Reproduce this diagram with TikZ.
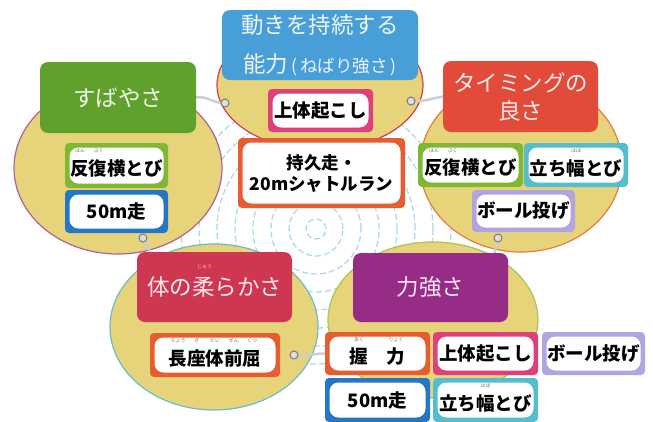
\documentclass[tikz,border=0pt]{standalone}
\usepackage{fontspec}
\newfontfamily\jp{Noto Sans CJK JP}
\usetikzlibrary{shapes.geometric}
\pgfdeclarelayer{bg}
\pgfsetlayers{bg,main}
\definecolor{ellfill}{RGB}{231,211,122}
\definecolor{hblue}{RGB}{72,158,214}
\definecolor{hgreen}{RGB}{96,160,44}
\definecolor{hred}{RGB}{226,74,58}
\definecolor{hcrim}{RGB}{206,54,82}
\definecolor{hpurp}{RGB}{150,44,134}
\definecolor{bpink}{RGB}{222,64,124}
\definecolor{borange}{RGB}{230,94,48}
\definecolor{bgreen}{RGB}{126,184,52}
\definecolor{bblue}{RGB}{38,118,198}
\definecolor{bteal}{RGB}{84,190,206}
\definecolor{blav}{RGB}{178,164,222}
\definecolor{ocrim}{RGB}{208,62,84}
\definecolor{opurp}{RGB}{176,96,150}
\definecolor{oorange}{RGB}{230,124,62}
\definecolor{oteal}{RGB}{104,190,200}
\definecolor{ogreen}{RGB}{164,200,84}
\definecolor{wavecol}{RGB}{176,218,236}
\definecolor{ropegray}{RGB}{205,205,212}
\definecolor{ringgray}{RGB}{222,222,224}
\definecolor{ringdark}{RGB}{120,120,125}
\definecolor{rubycol}{RGB}{110,110,110}
% #1 text options, #2 name, #3 x, #4 y, #5 w, #6 h, #7 colour, #8 text
\newcommand\itembox[8][]{%
  \node[myframe=#7, minimum width=#5pt, minimum height=#6pt] (#2) at (#3,#4) {};
  \pgfmathsetmacro\myiw{#5-9}%
  \pgfmathsetmacro\myih{#6-9}%
  \node[mycore, minimum width=\myiw pt, minimum height=\myih pt] (#2w) at (#2) {};
  \node[mytext, #1] (#2t) at (#2) {#8};
}
\begin{document}
\begin{tikzpicture}[x=1pt,y=-1pt,
  myheader/.style={fill=#1, rounded corners=8pt, inner sep=0pt, text=white!90!#1,
    font=\jp\fontsize{22.5}{28}\selectfont, align=center},
  myell/.style={ellipse, fill=ellfill, draw=#1, line width=1.2pt, inner sep=0pt},
  myframe/.style={fill=#1, rounded corners=4pt, inner sep=0pt},
  mycore/.style={fill=white, rounded corners=9pt, inner sep=0pt},
  mytext/.style={font=\jp\bfseries\fontsize{18.5}{21}\selectfont, align=center, inner sep=0pt, text=black},
  myruby/.style={font=\jp\fontsize{5}{5}\selectfont, text=rubycol, inner sep=0pt},
  myring/.style={circle, fill=ringgray, draw=ringdark, line width=1pt, minimum size=8pt, inner sep=0pt},
  myrope/.style={draw=ropegray, line width=2.5pt, line cap=round},
  mywave/.style={draw=wavecol, line width=1.3pt, dash pattern=on 6pt off 3pt}
]
\useasboundingbox (0,0) rectangle (653,421);

% headers
\node[myheader=hblue, minimum width=196pt, minimum height=70pt, font=\jp\fontsize{22.5}{39}\selectfont] (hb) at (320,45)
  {動きを持続する\\能力{\fontsize{17.5}{17.5}\selectfont\,(\,ねばり強さ\,)}};
\node[myheader=hgreen, minimum width=156pt, minimum height=71pt] (hg) at (118,97.5) {すばやさ};
\node[myheader=hred, minimum width=155pt, minimum height=71pt] (hr) at (520.5,96.5) {タイミングの\\良さ};
\node[myheader=hcrim, minimum width=155pt, minimum height=70pt] (hc) at (214.5,287) {体の柔らかさ};
\node[myheader=hpurp, minimum width=155pt, minimum height=69pt] (hp) at (430.5,287.5) {力強さ};
\node[myruby, text=white!65!hcrim] (rcj) at (204.5,267) {じゅう};

% items
\itembox{ta}{320.5}{110.5}{105}{43}{bpink}{上体起こし}
\itembox[font=\jp\bfseries\fontsize{17.5}{21}\selectfont]{tb}{321.5}{173}{167}{70}{borange}{持久走・\\20mシャトルラン}
\itembox[yshift=-3pt]{la}{116.5}{165.5}{103}{45}{bgreen}{反復横とび}
\itembox{lb}{116.5}{211.5}{103}{43}{bblue}{50m走}
\itembox[yshift=-3pt]{ra}{470.5}{165}{105}{44}{bgreen}{反復横とび}
\itembox[yshift=-3pt]{rb}{576}{165}{104}{44}{bteal}{立ち幅とび}
\itembox{rc}{523.5}{211}{103}{42}{blav}{ボール投げ}
\itembox[yshift=-3pt]{bla}{215}{355}{130}{44}{borange}{長座体前屈}
\itembox[yshift=-3pt]{bra}{377.5}{353.5}{105}{43}{borange}{握\hspace{1em}力}
\itembox{brb}{485.5}{353.5}{105}{43}{bpink}{上体起こし}
\itembox{brc}{593.5}{353.5}{103}{43}{blav}{ボール投げ}
\itembox{brd}{377.5}{400}{105}{44}{bblue}{50m走}
\itembox[yshift=-3pt]{bre}{485.5}{400}{105}{44}{bteal}{立ち幅とび}

% ruby
\node[myruby] (r1a) at (80,150.5) {はん};
\node[myruby] (r1b) at (98.5,150.5) {ぷく};
\node[myruby] (r2a) at (434,150.5) {はん};
\node[myruby] (r2b) at (452.5,150.5) {ぷく};
\node[myruby] (r3) at (576,150.5) {はば};
\node[myruby] (r4a) at (178,340.5) {ちょう};
\node[myruby] (r4b) at (196.5,340.5) {ざ};
\node[myruby] (r4c) at (215,340.5) {たい};
\node[myruby] (r4d) at (233.5,340.5) {ぜん};
\node[myruby] (r4e) at (252,340.5) {くつ};
\node[myruby] (r5a) at (359,339.5) {あく};
\node[myruby] (r5b) at (396,339.5) {りょく};
\node[myruby] (r6) at (485.5,385.5) {はば};

\begin{pgfonlayer}{bg}
  \fill[white] (0,0) rectangle (653,421);
  \coordinate (wc) at (316,229);
  \foreach \r in {10,27,45,63,81,99,117,135}
    \draw[mywave] (wc) circle (\r pt);
  % ellipses
  \node[myell=ocrim, minimum width=206pt, minimum height=130pt] (e1) at (320,85) {};
  \node[myell=opurp, minimum width=208pt, minimum height=172pt] (e2) at (118,168) {};
  \node[myell=oorange, minimum width=202pt, minimum height=174pt] (e3) at (521,165) {};
  \node[myell=oteal, minimum width=208pt, minimum height=166pt] (e4) at (214,327) {};
  \node[myell=ogreen, minimum width=210pt, minimum height=156pt] (e5) at (433,320) {};
  % connectors
  \coordinate (k1) at (225,103);
  \coordinate (k2) at (411,101);
  \coordinate (k3) at (143,238);
  \coordinate (k4) at (498,238);
  \coordinate (k5) at (294,355);
  \coordinate (c3) at (152,256);
  \coordinate (c4) at (494,256);
  \draw[myrope] (hg.east) to[out=10,in=185] (k1);
  \draw[myrope] (k2) to[out=-5,in=190] (hr.west);
  \draw[myrope] (k3) to[out=-70,in=110] (c3);
  \draw[myrope] (k4) to[out=-100,in=80] (c4);
  \draw[myrope] (k5) to[out=-10,in=180] (bra.west);
  \node[myring] (g1) at (k1) {};
  \node[myring] (g2) at (k2) {};
  \node[myring] (g3) at (k3) {};
  \node[myring] (g4) at (k4) {};
  \node[myring] (g5) at (k5) {};
\end{pgfonlayer}
\end{tikzpicture}
\end{document}
